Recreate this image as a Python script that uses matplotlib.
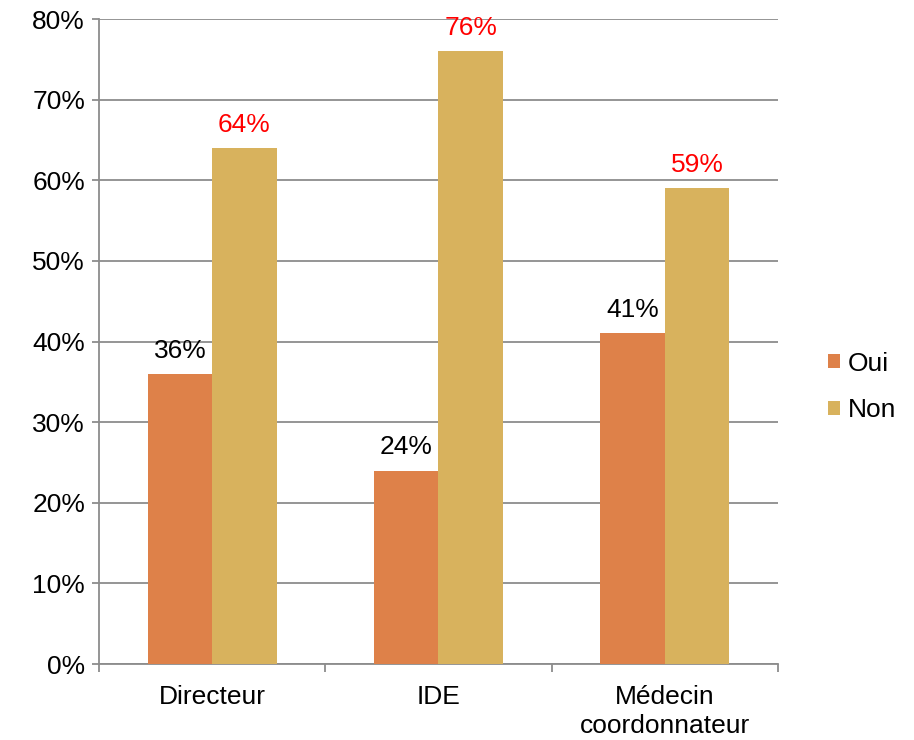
import numpy as np
import matplotlib.pyplot as plt
from matplotlib.ticker import PercentFormatter, FixedLocator

plt.rcParams['font.family'] = ['Liberation Sans', 'DejaVu Sans']

# -------------------- Data --------------------
categories = ['Directeur', 'IDE', 'Médecin\ncoordonnateur']
oui = [36, 24, 41]
non = [64, 76, 59]

col_oui = '#DE8149'
col_non = '#D8B25D'
grid_col = '#8C8C8C'
fs = 19

# -------------------- Plot --------------------
fig = plt.figure(figsize=(9.14, 7.4), dpi=100)
ax = fig.add_axes([0.1083, 0.1027, 0.7429, 0.8716])

x = np.arange(len(categories))
w = 0.285
b1 = ax.bar(x - w / 2, oui, w, color=col_oui, label='Oui', zorder=3)
b2 = ax.bar(x + w / 2, non, w, color=col_non, label='Non', zorder=3)

for rect, v in zip(b1, oui):
    ax.annotate(f'{v}%', (rect.get_x() + rect.get_width() / 2, v),
                xytext=(0, 8), textcoords='offset points',
                ha='center', va='bottom', fontsize=fs, color='black')
for rect, v in zip(b2, non):
    ax.annotate(f'{v}%', (rect.get_x() + rect.get_width() / 2, v),
                xytext=(0, 8), textcoords='offset points',
                ha='center', va='bottom', fontsize=fs, color='#FF0000')

ax.set_xlim(-0.5, len(categories) - 0.5)
ax.set_ylim(0, 80)
ax.set_yticks(np.arange(0, 81, 10))
ax.yaxis.set_major_formatter(PercentFormatter(decimals=0))
ax.grid(axis='y', color=grid_col, linewidth=1.3, zorder=0)

ax.set_xticks(x)
ax.set_xticklabels(categories, fontsize=fs, linespacing=1.25)
ax.xaxis.set_minor_locator(FixedLocator(np.arange(-0.5, len(categories), 1)))
ax.tick_params(axis='x', which='major', length=0, pad=15)
ax.tick_params(axis='x', which='minor', length=6, width=1.3, color=grid_col)
ax.tick_params(axis='y', length=5, width=1.3, color=grid_col, labelsize=fs, pad=5)

for s in ['top', 'right']:
    ax.spines[s].set_visible(False)
for s in ['left', 'bottom']:
    ax.spines[s].set_color(grid_col)
    ax.spines[s].set_linewidth(1.3)

fig.legend(handles=[b1, b2], labels=['Oui', 'Non'], loc='center left',
           bbox_to_anchor=(0.88, 0.477), frameon=False, fontsize=fs,
           handlelength=0.45, handleheight=0.45, handletextpad=0.3,
           labelspacing=0.85)

fig.savefig('out.png', dpi=100)
